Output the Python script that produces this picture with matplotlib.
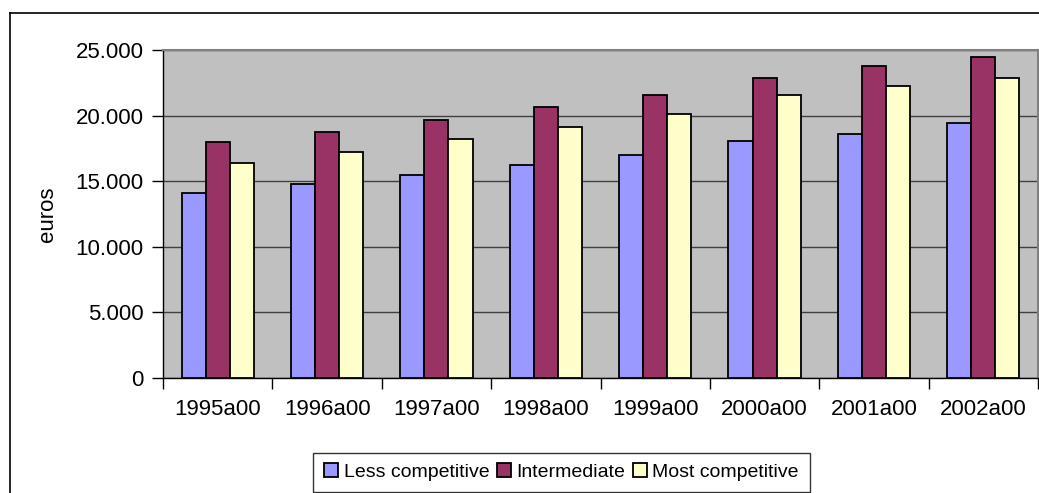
import numpy as np
import matplotlib.pyplot as plt
from matplotlib.lines import Line2D
from matplotlib.ticker import FuncFormatter

plt.rcParams['font.family'] = ['Liberation Sans', 'DejaVu Sans']

# данные (оценка по рисунку)
years = ['1995a00', '1996a00', '1997a00', '1998a00',
         '1999a00', '2000a00', '2001a00', '2002a00']
less_comp = [14100, 14800, 15500, 16250, 17000, 18050, 18600, 19400]
intermediate = [17950, 18750, 19700, 20650, 21600, 22900, 23750, 24450]
most_comp = [16400, 17250, 18200, 19150, 20100, 21600, 22250, 22850]

series = [('Less competitive', less_comp, '#9999FF'),
          ('Intermediate', intermediate, '#993366'),
          ('Most competitive', most_comp, '#FFFFCC')]

W, H = 1039, 493
fig = plt.figure(figsize=(W / 100, H / 100), dpi=100)
ax = fig.add_axes([163 / W, 1 - 378 / H, 875 / W, 328 / H])
ax.set_facecolor('#C0C0C0')

x = np.arange(len(years))
bw = 0.22
for i, (name, vals, col) in enumerate(series):
    ax.bar(x + (i - 1) * bw, vals, width=bw, color=col,
           edgecolor='black', linewidth=1.3, label=name, zorder=3)

ax.set_xlim(-0.5, len(years) - 0.5)
ax.set_ylim(0, 25000)
ax.set_yticks(np.arange(0, 25001, 5000))
ax.yaxis.set_major_formatter(FuncFormatter(lambda v, p: f'{int(v):,}'.replace(',', '.')))
ax.yaxis.grid(True, color='#404040', linewidth=1, zorder=1)
ax.set_axisbelow(True)

# метки x между категориями
ax.set_xticks(np.arange(len(years) + 1) - 0.5)
ax.set_xticklabels([])
ax.set_xticks(x, minor=True)
ax.set_xticklabels(years, minor=True)
ax.tick_params(axis='x', which='major', length=8, width=1, direction='out')
ax.tick_params(axis='x', which='minor', length=0, pad=15, labelsize=16)
ax.tick_params(axis='y', length=8, width=1, direction='out', pad=6, labelsize=16)

ax.set_ylabel('euros', fontsize=16)
ax.yaxis.set_label_coords(-0.12, 0.5)

for s in ['top', 'right']:
    ax.spines[s].set_color('#808080')
    ax.spines[s].set_linewidth(1.5)
for s in ['left', 'bottom']:
    ax.spines[s].set_color('black')
    ax.spines[s].set_linewidth(1)

leg = fig.legend(loc='center', bbox_to_anchor=(561.5 / W, 1 - 472 / H),
                 ncol=3, fontsize=14, frameon=True, fancybox=False,
                 edgecolor='black', handlelength=0.7, handleheight=0.7,
                 handletextpad=0.3, columnspacing=0.4, borderpad=0.55,
                 borderaxespad=0)
leg.get_frame().set_linewidth(1)

# внешняя рамка диаграммы
fig.add_artist(Line2D([9.5 / W, 9.5 / W], [0, 1 - 12.5 / H], color='black', lw=1.2))
fig.add_artist(Line2D([9.5 / W, 1], [1 - 12.5 / H, 1 - 12.5 / H], color='black', lw=1.2))

fig.savefig('out.png', dpi=100)
